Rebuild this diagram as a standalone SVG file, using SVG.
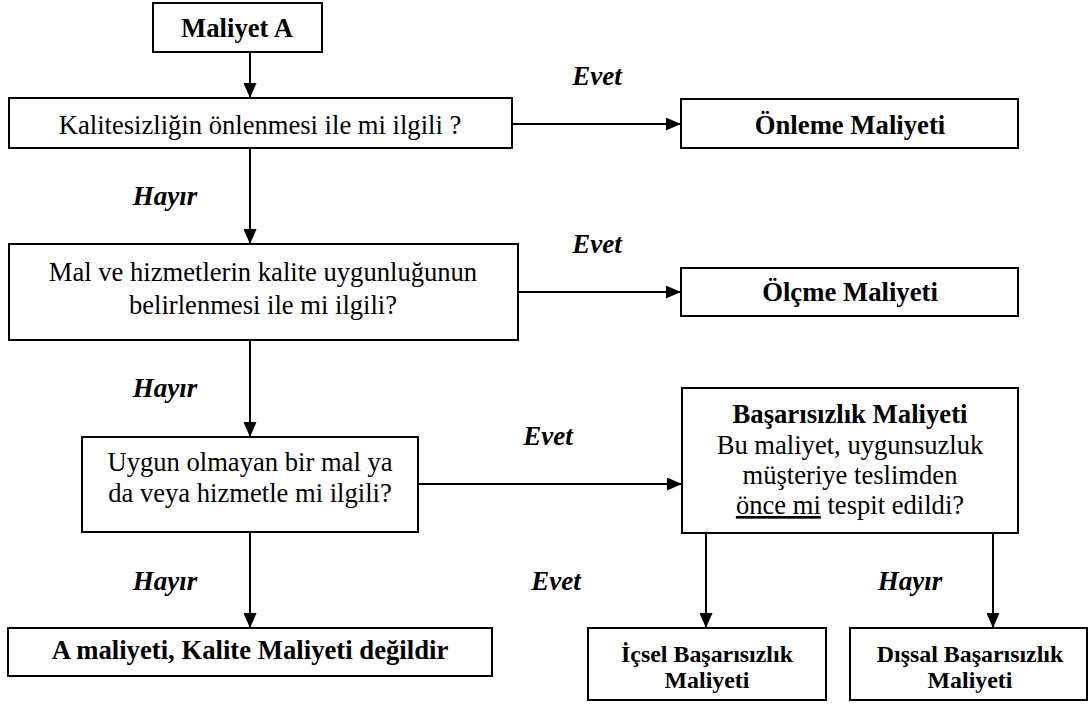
<svg xmlns="http://www.w3.org/2000/svg" width="1089" height="704" viewBox="0 0 1089 704" font-family="'Liberation Serif', 'Times New Roman', serif">
  <style>
    .box { fill: #ffffff; stroke: #000000; stroke-width: 2; }
    .line { fill: none; stroke: #000000; stroke-width: 2; }
    text { font-family: "Liberation Serif", "Times New Roman", serif; fill: #000000; text-anchor: middle; }
    .q { font-size: 26.6px; }
    .b { font-size: 26.7px; font-weight: bold; }
    .bs { font-size: 23.9px; font-weight: bold; }
    .lbl { font-size: 27px; font-weight: bold; font-style: italic; }
  </style>
  <defs>
    <marker id="arrow" markerUnits="userSpaceOnUse" markerWidth="15" markerHeight="13" refX="15" refY="6.5" orient="auto">
      <path d="M0,0 L15,6.5 L0,13 Z" fill="#000000"/>
    </marker>
  </defs>

  <rect width="1089" height="704" fill="#ffffff"/>

  <!-- connectors -->
  <g id="connectors">
    <path class="line" d="M250,52 L250,98" marker-end="url(#arrow)"/>
    <path class="line" d="M512,124 L681,124" marker-end="url(#arrow)"/>
    <path class="line" d="M250,148 L250,244" marker-end="url(#arrow)"/>
    <path class="line" d="M518,292 L681,292" marker-end="url(#arrow)"/>
    <path class="line" d="M250,340 L250,437" marker-end="url(#arrow)"/>
    <path class="line" d="M418,484 L682,484" marker-end="url(#arrow)"/>
    <path class="line" d="M250,532 L250,628" marker-end="url(#arrow)"/>
    <path class="line" d="M706,533 L706,628" marker-end="url(#arrow)"/>
    <path class="line" d="M993,533 L993,628" marker-end="url(#arrow)"/>
  </g>

  <!-- branch labels -->
  <g id="labels">
    <text class="lbl" x="597" y="85">Evet</text>
    <text class="lbl" x="165" y="205">Hayır</text>
    <text class="lbl" x="597" y="253">Evet</text>
    <text class="lbl" x="165" y="397">Hayır</text>
    <text class="lbl" x="548" y="445">Evet</text>
    <text class="lbl" x="165" y="590">Hayır</text>
    <text class="lbl" x="556" y="590">Evet</text>
    <text class="lbl" x="910" y="590">Hayır</text>
  </g>

  <g id="maliyet-a">
    <rect class="box" x="153" y="3" width="169" height="49"/>
    <text class="b" x="237" y="37">Maliyet A</text>
  </g>

  <g id="onleme-soru">
    <rect class="box" x="9" y="98" width="503" height="50"/>
    <text class="q" x="260" y="134">Kalitesizliğin önlenmesi ile mi ilgili ?</text>
  </g>

  <g id="onleme-maliyeti">
    <rect class="box" x="681" y="99" width="337" height="49"/>
    <text class="b" x="850" y="134">Önleme Maliyeti</text>
  </g>

  <g id="olcme-soru">
    <rect class="box" x="9" y="244" width="509" height="96"/>
    <text class="q" x="263" y="281">Mal ve hizmetlerin kalite uygunluğunun</text>
    <text class="q" x="263" y="314">belirlenmesi ile mi ilgili?</text>
  </g>

  <g id="olcme-maliyeti">
    <rect class="box" x="681" y="268" width="337" height="48"/>
    <text class="b" x="850" y="301">Ölçme Maliyeti</text>
  </g>

  <g id="uygunsuzluk-soru">
    <rect class="box" x="82" y="437" width="336" height="95"/>
    <text class="q" x="250" y="471">Uygun olmayan bir mal ya</text>
    <text class="q" x="250" y="502">da veya hizmetle mi ilgili?</text>
  </g>

  <g id="basarisizlik-maliyeti">
    <rect class="box" x="682" y="388" width="336" height="145"/>
    <text class="b" x="850" y="423">Başarısızlık Maliyeti</text>
    <text class="q" x="850" y="454">Bu maliyet, uygunsuzluk</text>
    <text class="q" x="850" y="484">müşteriye teslimden</text>
    <text class="q" x="850" y="514"><tspan text-decoration="underline">önce mi</tspan> tespit edildi?</text>
  </g>

  <g id="kalite-maliyeti-degil">
    <rect class="box" x="8" y="628" width="484" height="48"/>
    <text class="b" x="250" y="659">A maliyeti, Kalite Maliyeti değildir</text>
  </g>

  <g id="icsel-basarisizlik">
    <rect class="box" x="588" y="628" width="238" height="72"/>
    <text class="bs" x="707" y="662">İçsel Başarısızlık</text>
    <text class="bs" x="707" y="688">Maliyeti</text>
  </g>

  <g id="dissal-basarisizlik">
    <rect class="box" x="850" y="628" width="237" height="72"/>
    <text class="bs" x="970" y="662">Dışsal Başarısızlık</text>
    <text class="bs" x="970" y="688">Maliyeti</text>
  </g>
</svg>
